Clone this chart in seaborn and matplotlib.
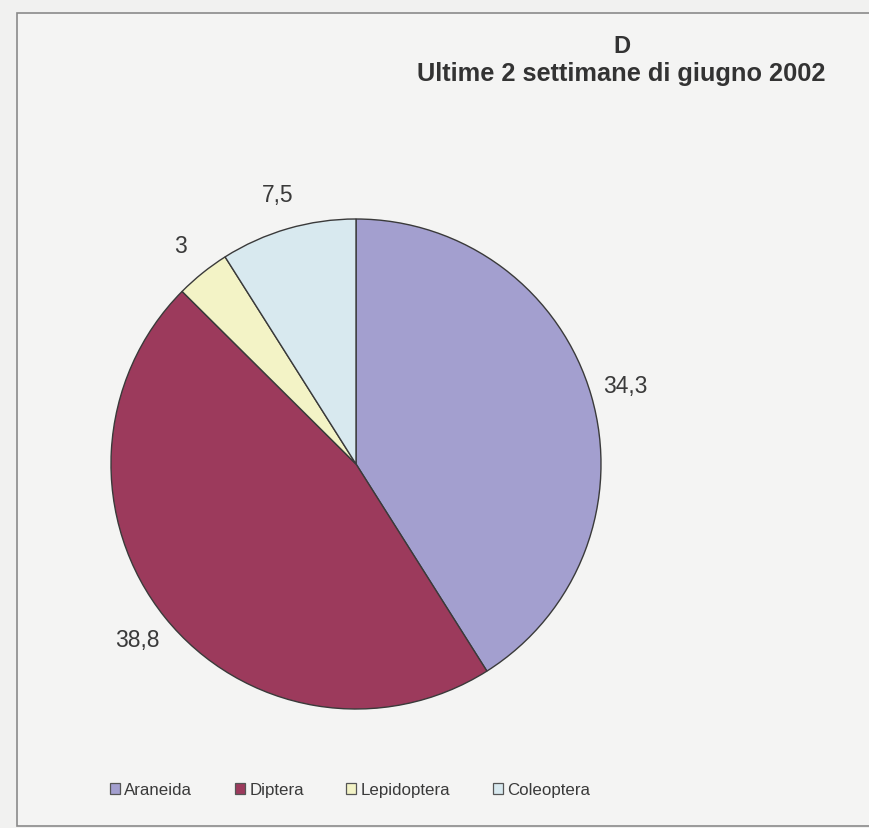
import matplotlib
matplotlib.use("Agg")
import matplotlib.pyplot as plt
from matplotlib.patches import Patch, Rectangle
import seaborn as sns

# Percent composition of captured arthropods
categories = ["Araneida", "Diptera", "Lepidoptera", "Coleoptera"]
values = [34.3, 38.8, 3, 7.5]
value_labels = ["34,3", "38,8", "3", "7,5"]
colors = ["#a39fcf", "#9c3a5c", "#f3f3c6", "#d8e9ef"]

title_top = "D"
title_sub = "Ultime 2 settimane di giugno 2002"

sns.set_theme(style="white")
plt.rcParams["font.family"] = ["Liberation Sans", "DejaVu Sans"]

W, H = 870, 829
fig = plt.figure(figsize=(W / 100, H / 100), dpi=100)
bg = "#f1f1f0"
fig.patch.set_facecolor(bg)

# framed chart area
fig.add_artist(Rectangle((17 / W, 1 - 827 / H), (W + 5 - 17) / W, (827 - 14) / H,
                         transform=fig.transFigure, fill=True, facecolor="#f4f4f3",
                         edgecolor="#8a8a8a", linewidth=1.2, zorder=0))

cx, cy, r = 356, 465, 245
ax = fig.add_axes([(cx - r) / W, 1 - (cy + r) / H, 2 * r / W, 2 * r / H])
ax.set_facecolor("none")
wedges, texts = ax.pie(values, labels=value_labels, colors=colors, startangle=90,
                       counterclock=False, labeldistance=1.145,
                       wedgeprops=dict(edgecolor="#3a3a3a", linewidth=1.0),
                       textprops=dict(fontsize=16.5, color="#3a3a3a"))
for t in texts:
    t.set_ha("center")
    t.set_va("center")
ax.set_xlim(-1, 1)
ax.set_ylim(-1, 1)
ax.set_aspect("equal")
ax.axis("off")

fig.text(622 / W, 1 - 53 / H, title_top, ha="center", va="baseline",
         fontsize=17, fontweight="bold", color="#333333")
fig.text(621 / W, 1 - 81 / H, title_sub, ha="center", va="baseline",
         fontsize=18.3, fontweight="bold", color="#333333")

handles = [Patch(facecolor=c, edgecolor="#555555", linewidth=0.9) for c in colors]
fig.legend(handles, categories, loc="center", bbox_to_anchor=(350 / W, 1 - 791 / H),
           ncol=4, frameon=False, fontsize=12.2, handlelength=0.6, handleheight=0.6,
           handletextpad=0.25, columnspacing=2.5, labelcolor="#3a3a3a")

fig.savefig("out.png", dpi=100, facecolor=bg)
